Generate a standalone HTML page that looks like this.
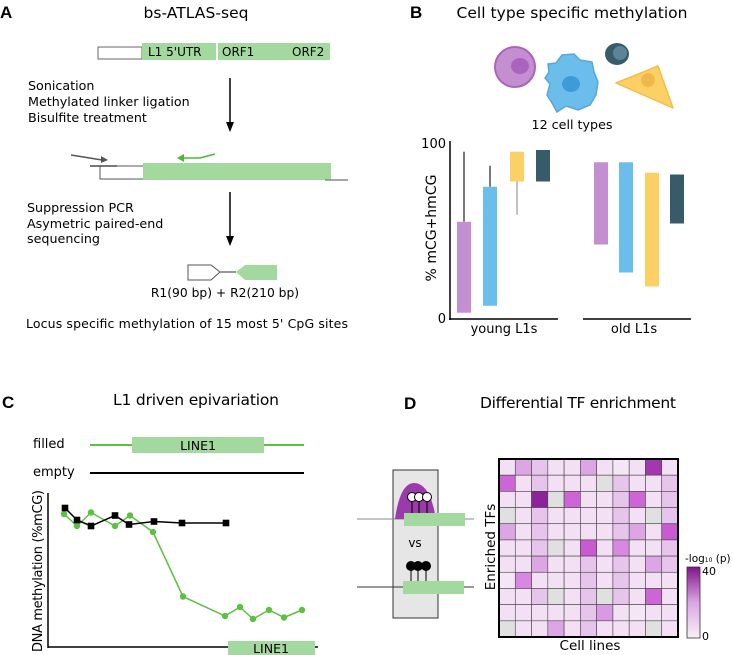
<!DOCTYPE html>
<html><head><meta charset="utf-8"><style>
body{margin:0;background:#fff;}
svg{display:block;font-family:"DejaVu Sans","Liberation Sans",sans-serif;}
</style></head><body>
<svg width="733" height="655" viewBox="0 0 733 655" xmlns="http://www.w3.org/2000/svg">
<!-- Panel A -->
<g>
<text x="0" y="18" font-size="17" font-weight="bold" font-family="Liberation Sans">A</text>
<text x="196" y="18" font-size="15.5" text-anchor="middle" textLength="105">bs-ATLAS-seq</text>
<rect x="98" y="47" width="44" height="12" fill="#fff" stroke="#666" stroke-width="1"/>
<rect x="142" y="43" width="74" height="17" fill="#a3d99e"/>
<rect x="218" y="43" width="112" height="17" fill="#a3d99e"/>
<text x="148" y="56" font-size="12">L1 5'UTR</text>
<text x="222" y="56" font-size="12">ORF1</text>
<text x="292" y="56" font-size="12">ORF2</text>
<line x1="230" y1="78" x2="230" y2="128" stroke="#000" stroke-width="1.5"/>
<polygon points="226,122 234,122 230,132" fill="#000"/>
<text x="28" y="90" font-size="12.7">Sonication</text>
<text x="28" y="106" font-size="12.7">Methylated linker ligation</text>
<text x="28" y="122" font-size="12.7">Bisulfite treatment</text>
<rect x="143" y="163" width="188" height="17" fill="#a3d99e"/>
<line x1="90" y1="166" x2="117" y2="166" stroke="#777" stroke-width="2"/>
<line x1="117" y1="166" x2="143" y2="166" stroke="#555"/>
<polyline points="100,166 100,179 143,179" stroke="#555" fill="none"/>
<line x1="325" y1="180" x2="348" y2="180" stroke="#888" stroke-width="1.5"/>
<path d="M71,155 L102,160" stroke="#555" stroke-width="1.5" fill="none"/>
<polygon points="101,156 108,160 101,163" fill="#555"/>
<path d="M215,154 L200,158 L184,158" stroke="#4cb82f" stroke-width="1.5" fill="none"/>
<polygon points="184,154 177,158 184,162" fill="#4cb82f"/>
<line x1="230" y1="192" x2="230" y2="242" stroke="#000" stroke-width="1.5"/>
<polygon points="226,236 234,236 230,246" fill="#000"/>
<text x="27" y="212" font-size="12.7">Suppression PCR</text>
<text x="27" y="228" font-size="12.7">Asymetric paired-end</text>
<text x="27" y="243" font-size="12.7">sequencing</text>
<polygon points="188,265 211,265 220,272 211,280 188,280" fill="#fff" stroke="#555"/>
<line x1="220" y1="272" x2="236" y2="272" stroke="#333"/>
<polygon points="236,272 245,265 277,265 277,280 245,280" fill="#a3d99e"/>
<text x="225" y="297" font-size="12.3" text-anchor="middle">R1(90 bp) + R2(210 bp)</text>
<text x="26" y="328" font-size="12.5" textLength="322">Locus specific methylation of 15 most 5' CpG sites</text>
</g>
<!-- Panel B -->
<g>
<text x="410" y="18" font-size="17" font-weight="bold" font-family="Liberation Sans">B</text>
<text x="572" y="18" font-size="15.5" text-anchor="middle" textLength="231">Cell type specific methylation</text>
<ellipse cx="515" cy="67" rx="20" ry="20" fill="#c38fd0" stroke="#a865bb" stroke-width="2"/>
<ellipse cx="520" cy="66" rx="9" ry="8" fill="#ab64bd"/>
<path d="M548,64 L556,63 L562,55 L574,54 L580,60 L592,62 L594,72 L598,82 L596,95 L590,105 L578,110 L566,106 L557,112 L552,103 L547,95 L550,84 L545,78 L549,72 Z" fill="#6bbdec" stroke="#57a8d8" stroke-width="1.5"/>
<ellipse cx="571" cy="84" rx="9" ry="8" fill="#3e9bd5"/>
<ellipse cx="617" cy="54" rx="12" ry="11" fill="#385b6a"/>
<ellipse cx="620" cy="53" rx="7" ry="7" fill="#5b8496"/>
<path d="M616,83 L658,66 L673,108 Z" fill="#fdd065" stroke="#f3bd4a" stroke-width="1.5" stroke-linejoin="round"/>
<ellipse cx="648" cy="80" rx="7" ry="7" fill="#f0b84a"/>
<text x="572" y="129" font-size="12.7" text-anchor="middle">12 cell types</text>
<g id="chartB"></g>
</g>
<!-- Panel C -->
<g>
<text x="2" y="408" font-size="17" font-weight="bold" font-family="Liberation Sans">C</text>
<text x="196" y="405" font-size="15.5" text-anchor="middle" textLength="166">L1 driven epivariation</text>
<text x="33" y="448" font-size="13">filled</text>
<line x1="90" y1="445" x2="304" y2="445" stroke="#5cc040" stroke-width="2"/>
<rect x="132" y="437" width="132" height="16" fill="#a3d99e"/>
<text x="198" y="450" font-size="12.5" text-anchor="middle">LINE1</text>
<text x="33" y="476" font-size="13">empty</text>
<line x1="90" y1="473" x2="304" y2="473" stroke="#000" stroke-width="2"/>
<line x1="48" y1="493" x2="48" y2="648" stroke="#000" stroke-width="1.5"/>
<line x1="48" y1="647" x2="318" y2="647" stroke="#000" stroke-width="1.5"/>
<text transform="translate(42,571) rotate(-90)" font-size="13" text-anchor="middle" textLength="162">DNA methylation (%mCG)</text>
<rect x="228" y="641" width="87" height="14" fill="#a3d99e"/>
<text x="271" y="653" font-size="12.5" text-anchor="middle">LINE1</text>
<g id="chartC"></g>
</g>
<!-- Panel D -->
<g>
<text x="404" y="409" font-size="17" font-weight="bold" font-family="Liberation Sans">D</text>
<text x="578" y="408" font-size="15.5" text-anchor="middle" textLength="196">Differential TF enrichment</text>
<rect x="393" y="470" width="45" height="148" fill="#e6e6e6" stroke="#333"/>
<line x1="357" y1="519" x2="474" y2="519" stroke="#888"/>
<path d="M395,519 Q400,483 414,483 Q430,483 436,519 Z" fill="#9b3aab"/>
<rect x="404" y="513" width="61" height="13" fill="#a3d99e"/>
<g fill="#fff" stroke="#000" stroke-width="1">
<line x1="412" y1="497" x2="412" y2="513"/><line x1="419" y1="497" x2="419" y2="513"/><line x1="427" y1="497" x2="427" y2="513"/>
<circle cx="412" cy="497" r="4.5"/><circle cx="419" cy="497" r="4.5"/><circle cx="427" cy="497" r="4.5"/>
</g>
<text x="415" y="547" font-size="12" text-anchor="middle">vs</text>
<line x1="357" y1="587" x2="474" y2="587" stroke="#333"/>
<rect x="403" y="581" width="61" height="13" fill="#a3d99e"/>
<g fill="#000" stroke="#000">
<line x1="411" y1="566" x2="411" y2="581"/><line x1="418" y1="566" x2="418" y2="581"/><line x1="426" y1="566" x2="426" y2="581"/>
<circle cx="411" cy="566" r="4.5"/><circle cx="418" cy="566" r="4.5"/><circle cx="426" cy="566" r="4.5"/>
</g>
<text transform="translate(495,547) rotate(-90)" font-size="13.5" text-anchor="middle">Enriched TFs</text>
<text x="590" y="650" font-size="13.5" text-anchor="middle">Cell lines</text>
<g id="heatmap"></g>
<defs><linearGradient id="cb" x1="0" y1="1" x2="0" y2="0"><stop offset="0" stop-color="#f8f0f8"/><stop offset="0.5" stop-color="#dca5e4"/><stop offset="1" stop-color="#80148c"/></linearGradient></defs>
<rect x="687" y="567" width="13" height="71" fill="url(#cb)" stroke="#333" stroke-width="0.8"/>
<text x="685" y="562" font-size="10.5">-log<tspan font-size="6">10</tspan> (p)</text>
<text x="702" y="575" font-size="11">40</text>
<text x="702" y="640" font-size="11">0</text>
</g>
</svg>
<script>
const NS='http://www.w3.org/2000/svg';
function mk(t,a,p){const e=document.createElementNS(NS,t);for(const k in a)e.setAttribute(k,a[k]);p.appendChild(e);return e;}
// Panel B data
const bGroups=['young L1s','old L1s'];
const bColors=['#c38fd0','#6bbdec','#fdd065','#385b6a'];
const youngTop=[55,75,95,96];
const youngBottom=[3,7,78,78];
const youngWhiskerEnd=[95,87,59,null];
const oldTop=[89,89,83,82];
const oldBottom=[42,26,18,54];
const bTicks=['0','100'];
(function(){
 const g=document.getElementById('chartB');
 const y=v=>318-v*1.75;
 mk('line',{x1:450,y1:141,x2:450,y2:320,stroke:'#000','stroke-width':1.5},g);
 mk('line',{x1:449,y1:319,x2:558,y2:319,stroke:'#000','stroke-width':1.5},g);
 mk('line',{x1:583,y1:319,x2:691,y2:319,stroke:'#000','stroke-width':1.5},g);
 [0,100].forEach((v,i)=>{const t=mk('text',{x:446,y:y(v)+5,'font-size':13,'text-anchor':'end'},g);t.textContent=bTicks[i];
 
 });
 const yl=mk('text',{transform:'translate(436,228) rotate(-90)','font-size':14,'text-anchor':'middle'},g);yl.textContent='% mCG+hmCG';
 
 
 const xs=[[457,483,510,536],[594,619,645,670]];
 const sets=[[youngTop,youngBottom],[oldTop,oldBottom]];
 for(let gi=0;gi<2;gi++){
  for(let i=0;i<4;i++){
   const top=sets[gi][0][i],bot=sets[gi][1][i];
   if(gi===0&&youngWhiskerEnd[i]!=null){const w=youngWhiskerEnd[i];
    const ln=mk('line',{x1:xs[gi][i]+7,x2:xs[gi][i]+7,y1:y(w),y2:w>top?y(top):y(bot),stroke:w>top?'#222':'#999','stroke-width':1.2},g);
    
    }
   const r=mk('rect',{x:xs[gi][i],y:y(top),width:14,height:y(bot)-y(top),fill:bColors[i]},g);
   
   
  }
  const t=mk('text',{x:gi?634:504,y:333,'font-size':13,'text-anchor':'middle'},g);t.textContent=bGroups[gi];
  
  
 }
})();
// Panel C data
const filledPos=[0,1,2,3,4,5,6,7,8,9,10,11,12];
const filledVal=[88,80,89,80,87,76,33,20,26,18,24,19,24];
const emptyPos=[0,1,2,3,4,5,6,7];
const emptyVal=[92,84,80,87,81,83,82,82];
(function(){
 const g=document.getElementById('chartC');
 const fx=[64,77,91,115,130,153,183,225,240,253,269,284,302];
 const ex=[65,77,91,115,129,154,182,226];
 const y=v=>646-v*1.5;
 const poly=(px,vals)=>vals.map((v,i)=>px[i]+','+y(v)).join(' ');
 const pl1=mk('polyline',{points:poly(fx,filledVal),fill:'none',stroke:'#5cc040','stroke-width':1.5},g);
 
 
 filledVal.forEach((v,i)=>{const c=mk('circle',{cx:fx[filledPos[i]],cy:y(v),r:3.2,fill:'#5cc040'},g);
  
  });
 const pl2=mk('polyline',{points:poly(ex,emptyVal),fill:'none',stroke:'#000','stroke-width':1.5},g);
 
 
 emptyVal.forEach((v,i)=>{const r=mk('rect',{x:ex[emptyPos[i]]-3.3,y:y(v)-3.3,width:6.6,height:6.6,fill:'#000'},g);
  
  });
})();
// Panel D data (-1 = not available)
const hmRows=[
[5,15,10,5,5,15,5,3,5,35,5],
[28,5,10,5,5,5,-1,10,5,5,10],
[5,5,38,-1,28,5,5,10,28,5,10],
[-1,5,10,5,5,5,5,10,5,-1,10],
[15,5,10,5,5,5,5,10,15,5,30],
[5,5,10,-1,5,30,5,22,5,5,10],
[5,5,15,5,5,10,5,10,5,15,10],
[3,22,5,5,5,10,5,10,5,5,5],
[5,5,10,-1,5,10,-1,10,5,28,5],
[5,5,5,5,5,10,18,5,3,5,5],
[-1,5,5,15,5,10,5,5,5,-1,5]];
(function(){
 const g=document.getElementById('heatmap');
 const x0=499,y0=459,W=179,H=178,n=11,cw=W/n,ch=H/n;
 const stops=[[0,[248,240,248]],[5,[243,224,245]],[10,[231,196,235]],[15,[220,165,228]],[22,[216,136,226]],[30,[200,90,210]],[40,[128,20,140]]];
 const col=v=>{if(v<0)return '#e0e0e0';
  for(let i=1;i<stops.length;i++){if(v<=stops[i][0]){const a=stops[i-1],b=stops[i];const t=(v-a[0])/(b[0]-a[0]);
   return 'rgb('+a[1].map((c,k)=>Math.round(c+(b[1][k]-c)*t)).join(',')+')';}}
  return 'rgb(128,20,140)';};
 hmRows.forEach((row,r)=>row.forEach((v,c)=>{
  const e=mk('rect',{x:x0+c*cw,y:y0+r*ch,width:cw,height:ch,fill:col(v),stroke:'#444','stroke-width':0.6},g);
  
  
 }));
 mk('rect',{x:x0,y:y0,width:W,height:H,fill:'none',stroke:'#000','stroke-width':2},g);
})();
</script>
</body></html>
